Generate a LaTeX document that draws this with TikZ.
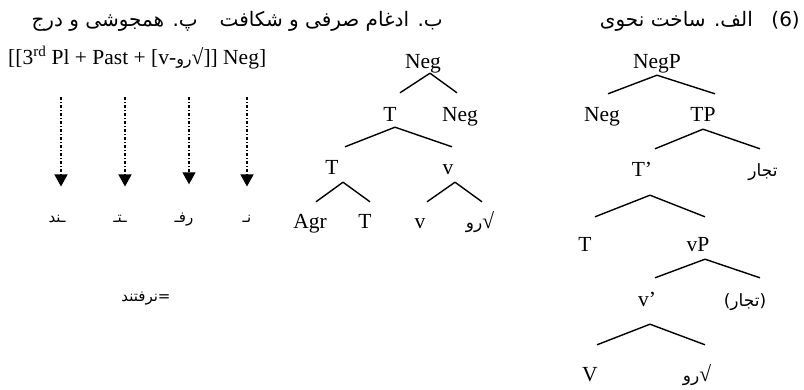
\documentclass[tikz,border=0pt]{standalone}
\usepackage{fontspec}
\usepackage{tikz}
\usetikzlibrary{arrows.meta}
\setmainfont{Liberation Serif}
\newfontfamily\fa[Script=Arabic]{DejaVu Sans}
\TeXXeTstate=1

\tikzset{
  lab/.style={font=\fontsize{21.5}{25}\selectfont, inner sep=0pt, anchor=base, text height=14pt, text depth=4pt},
  falab/.style={font=\fa\fontsize{17}{20}\selectfont, inner sep=0pt, anchor=base, text height=14pt, text depth=4pt},
  arlab/.style={font=\fa\fontsize{15}{18}\selectfont, inner sep=0pt, anchor=base},
  hd/.style={font=\fa\fontsize{20}{24}\selectfont, inner sep=0pt, anchor=base east},
  branch/.style={line width=1.4pt},
  flow/.style={line width=1.2pt, dash pattern=on 3pt off 2pt on 1pt off 2pt, -{Triangle[width=13pt,length=12pt]}},
}

\begin{document}
\begin{tikzpicture}[x=1pt,y=-1pt]
\useasboundingbox (0,0) rectangle (804,389);

% header line
\node[hd] (num) at (800,26) {(6)};
\node[hd] (alef) at (753,26) {\beginR الف. ساخت نحوی\endR};
\node[hd] (be) at (443,26) {\beginR ب. ادغام صرفی و شکافت\endR};
\node[hd] (pe) at (198,26) {\beginR پ. همجوشی و درج\endR};

% (pe) fusion and insertion
\node[lab, anchor=base west] (form) at (8,64) {[[3\textsuperscript{rd} Pl + Past + [v-{\fa\fontsize{16}{18}\selectfont\beginR رو\endR}√]] Neg]};
\coordinate (s1) at (61,97);
\coordinate (s2) at (125,97);
\coordinate (s3) at (189,97);
\coordinate (s4) at (247,97);
\node[arlab] (l1) at (57,222) {\beginR ـند\endR};
\node[arlab] (l2) at (120,222) {\beginR ـتـ\endR};
\node[arlab] (l3) at (184,222) {\beginR رفـ\endR};
\node[arlab] (l4) at (247,222) {\beginR نـ\endR};
\draw[flow, shorten >=28pt] (s1) -- (s1 |- l1.north);
\draw[flow, shorten >=28pt] (s2) -- (s2 |- l2.north);
\draw[flow, shorten >=28pt] (s3) -- (s3 |- l3.north);
\draw[flow, shorten >=28pt] (s4) -- (s4 |- l4.north);
\node[arlab] (word) at (146,301) {\beginR =نرفتند\endR};

% (be) merger and fission
\node[lab] (mneg) at (423,68) {Neg};
\node[lab] (mt1) at (390,121) {T};
\node[lab] (mneg2) at (460,121) {Neg};
\node[lab] (mt2) at (332,174) {T};
\node[lab] (mv) at (448,174) {v};
\node[lab] (magr) at (310,228) {Agr};
\node[lab] (mt3) at (365,228) {T};
\node[lab] (mv2) at (420,228) {v};
\node[falab] (mroot) at (480,228) {\beginR رو\endR{\rmfamily\fontsize{21.5}{25}\selectfont √}};
\draw[branch] ([xshift=7pt,yshift=-1pt]mneg.south) -- ([xshift=10pt,yshift=14pt]mt1.north);
\draw[branch] ([xshift=7pt,yshift=-1pt]mneg.south) -- ([xshift=-3pt,yshift=14pt]mneg2.north);
\draw[branch] ([xshift=5pt,yshift=-2pt]mt1.south) -- ([xshift=13pt,yshift=13pt]mt2.north);
\draw[branch] ([xshift=5pt,yshift=-2pt]mt1.south) -- ([xshift=4pt,yshift=13pt]mv.north);
\draw[branch] ([xshift=11pt,yshift=-4pt]mt2.south) -- ([xshift=6pt,yshift=12pt]magr.north);
\draw[branch] ([xshift=11pt,yshift=-4pt]mt2.south) -- ([xshift=5pt,yshift=12pt]mt3.north);
\draw[branch] ([xshift=7pt,yshift=-4pt]mv.south) -- ([xshift=7pt,yshift=12pt]mv2.north);
\draw[branch] ([xshift=7pt,yshift=-4pt]mv.south) -- ([xshift=2pt,yshift=12pt]mroot.north);

% (alef) syntactic structure
\node[lab] (negp) at (657,68) {NegP};
\node[lab] (rneg) at (602,121) {Neg};
\node[lab] (tp) at (703,121) {TP};
\node[lab] (tbar) at (642,176) {T'};
\node[falab] (tujjar) at (763,176) {\beginR تجار\endR};
\node[lab] (rt) at (585,251) {T};
\node[lab] (vp) at (698,251) {vP};
\node[lab] (vbar) at (647,306) {v'};
\node[falab] (tujjar2) at (745,306) {\beginR (تجار)\endR};
\node[lab] (rv) at (590,381) {V};
\node[falab] (rroot) at (697,381) {\beginR رو\endR{\rmfamily\fontsize{21.5}{25}\selectfont √}};
\draw[branch] ([yshift=-3pt]negp.south) -- ([xshift=6pt,yshift=13pt]rneg.north);
\draw[branch] ([yshift=-3pt]negp.south) -- ([xshift=12pt,yshift=13pt]tp.north);
\draw[branch] ([yshift=-4pt]tp.south) -- ([xshift=13pt,yshift=13pt]tbar.north);
\draw[branch] ([yshift=-4pt]tp.south) -- ([xshift=-3pt,yshift=13pt]tujjar.north);
\draw[branch] ([xshift=8pt,yshift=-15pt]tbar.south) -- ([xshift=10pt,yshift=20pt]rt.north);
\draw[branch] ([xshift=8pt,yshift=-15pt]tbar.south) -- ([xshift=7pt,yshift=20pt]vp.north);
\draw[branch] ([xshift=7pt,yshift=-4pt]vp.south) -- ([xshift=8pt,yshift=14pt]vbar.north);
\draw[branch] ([xshift=7pt,yshift=-4pt]vp.south) -- ([xshift=15pt,yshift=14pt]tujjar2.north);
\draw[branch] ([xshift=3pt,yshift=-14pt]vbar.south) -- ([xshift=7pt,yshift=22pt]rv.north);
\draw[branch] ([xshift=3pt,yshift=-14pt]vbar.south) -- ([xshift=8pt,yshift=22pt]rroot.north);
\end{tikzpicture}
\end{document}
